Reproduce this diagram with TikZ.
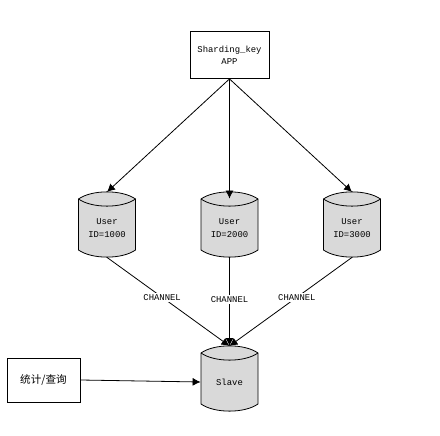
\documentclass[tikz,border=0pt]{standalone}
\usepackage{fontspec}
\setmonofont{Liberation Mono}
\newfontfamily\cjk{Noto Sans CJK SC}
\usetikzlibrary{arrows.meta}
\definecolor{dbgray}{HTML}{D9D9D9}
\begin{document}
\begin{tikzpicture}[x=1pt, y=-1pt, line width=0.8pt, >={Latex[length=8pt,width=8pt]},
	every node/.style={font=\ttfamily\fontsize{8.9}{12.3}\selectfont, align=center},
	box/.style={draw, minimum width=79pt, minimum height=47pt, inner sep=0pt},
	store/.style={minimum width=57pt, minimum height=58pt, inner sep=0pt},
	channel/.style={fill=white, inner sep=1.5pt},
	db/.pic={
		\draw[fill=dbgray] (-28.5,-29) .. controls (-15,-38.5) and (15,-38.5) .. (28.5,-29) -- (28.5,22) .. controls (15,31.5) and (-15,31.5) .. (-28.5,22) -- cycle;
		\draw (-28.5,-29) .. controls (-15,-19.5) and (15,-19.5) .. (28.5,-29);
		\coordinate (-top) at (0,-36);
	}]

	\useasboundingbox (0,0) rectangle (440,436);

	\node[box] (app) at (229.5,55) {Sharding\_key\\APP};
	\node[box, minimum width=73pt, minimum height=44pt] (query) at (43.5,380) {\cjk\fontsize{10.6}{12.3}\selectfont 统计/查询};

	\pic (user1) at (107,228) {db};
	\pic (user2) at (229.5,228) {db};
	\pic (user3) at (352,228) {db};
	\pic (slave) at (229.5,382) {db};

	\node[store] (1000) at (107,228) {User\\ID=1000};
	\node[store] (2000) at (229.5,228) {User\\ID=2000};
	\node[store] (3000) at (352,228) {User\\ID=3000};
	\node[store] (store) at (229.5,382) {Slave};

	\draw[->] (app.south) -- (user1-top);
	\draw[->] (app.south) -- (2000.north);
	\draw[->] (app.south) -- (user3-top);

	\draw[->] (1000.south) -- node[channel, pos=0.45] (channel1) {CHANNEL} (slave-top);
	\draw[->] (2000.south) -- node[channel, pos=0.48] (channel2) {CHANNEL} (slave-top);
	\draw[->] (3000.south) -- node[channel, pos=0.45] (channel3) {CHANNEL} (slave-top);

	\draw[->] (query.east) -- (store.west);

\end{tikzpicture}
\end{document}
